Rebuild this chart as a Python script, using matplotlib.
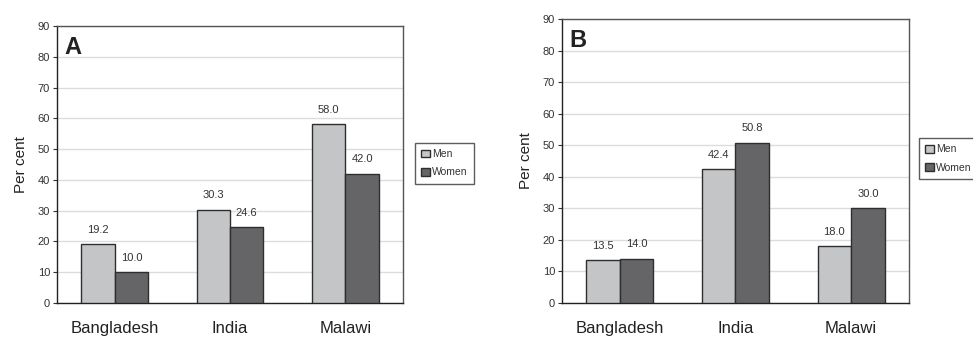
import numpy as np
import matplotlib
matplotlib.use("Agg")
import matplotlib.pyplot as plt

plt.rcParams['font.family'] = ['Liberation Sans', 'DejaVu Sans']

countries = ['Bangladesh', 'India', 'Malawi']
men_a = [19.2, 30.3, 58.0]
women_a = [10.0, 24.6, 42.0]
men_b = [13.5, 42.4, 18.0]
women_b = [14.0, 50.8, 30.0]
y_ticks = list(range(0, 100, 10))

MEN_COLOR = '#c4c5c7'
WOMEN_COLOR = '#656567'
EDGE = '#2e2e2e'
TEXT = '#333333'


def draw_panel(ax, men, women, letter, leg_anchor):
    x = np.arange(len(countries))
    w = 0.29
    b1 = ax.bar(x - w / 2, men, w, color=MEN_COLOR, edgecolor=EDGE, linewidth=1.0,
                label='Men', zorder=3)
    b2 = ax.bar(x + w / 2, women, w, color=WOMEN_COLOR, edgecolor=EDGE, linewidth=1.0,
                label='Women', zorder=3)
    for bars, vals in ((b1, men), (b2, women)):
        for r, v in zip(bars, vals):
            ax.text(r.get_x() + r.get_width() / 2, v + 3.0, f'{v:.1f}',
                    ha='center', va='bottom', fontsize=8, color=TEXT)

    ax.set_xlim(-0.5, len(countries) - 0.5)
    ax.set_ylim(0, 90)
    ax.set_yticks(y_ticks)
    ax.set_xticks(x)
    ax.set_xticklabels(countries, fontsize=12, color='#222222')
    ax.tick_params(axis='x', length=0, pad=13)
    ax.tick_params(axis='y', labelsize=8, colors=TEXT, length=3, width=0.8, pad=2)
    ax.yaxis.grid(True, color='#dcdcdc', linewidth=1.0, zorder=0)
    ax.set_axisbelow(True)
    for s in ax.spines.values():
        s.set_color('#555555')
        s.set_linewidth(1.0)
    ax.spines['left'].set_color('#222222')
    ax.spines['bottom'].set_color('#222222')
    ax.set_ylabel('Per cent', fontsize=11, color='#222222', labelpad=7)
    ax.text(0.02, 0.965, letter, transform=ax.transAxes, fontsize=17,
            fontweight='bold', ha='left', va='top', color='#222222')
    leg = ax.legend(loc='upper left', bbox_to_anchor=leg_anchor, borderaxespad=0,
                    fontsize=7.5, frameon=True, fancybox=False, handlelength=0.8,
                    handleheight=0.8, handletextpad=0.2, labelspacing=0.8,
                    borderpad=0.6, edgecolor='#333333')
    leg.get_frame().set_linewidth(1.0)
    for t in leg.get_texts():
        t.set_color(TEXT)


fig = plt.figure(figsize=(9.73, 3.38), dpi=100)
ax_a = fig.add_axes([0.0586, 0.1036, 0.3556, 0.8195])
ax_b = fig.add_axes([0.5776, 0.1036, 0.3566, 0.840])

draw_panel(ax_a, men_a, women_a, 'A', (1.035, 0.578))
draw_panel(ax_b, men_b, women_b, 'B', (1.029, 0.581))

fig.savefig('out.png', dpi=100)
